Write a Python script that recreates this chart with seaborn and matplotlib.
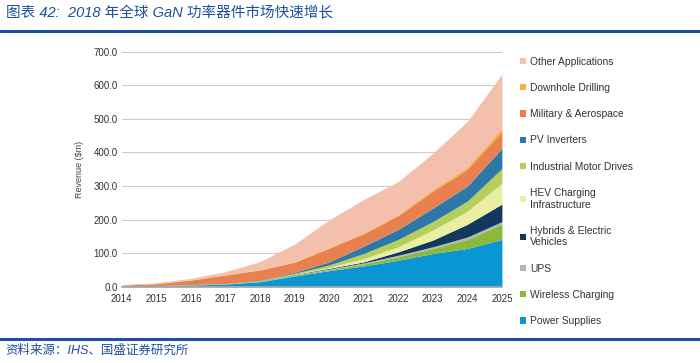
import numpy as np
import matplotlib
matplotlib.use("Agg")
import matplotlib.pyplot as plt
from matplotlib.patches import Patch
from matplotlib.lines import Line2D
import seaborn as sns

sns.set_theme(style="whitegrid")
plt.rcParams['font.family'] = ['Liberation Sans', 'Noto Sans CJK SC', 'DejaVu Sans']

# data ($m, stacked)
years = [2014, 2015, 2016, 2017, 2018, 2019, 2020, 2021, 2022, 2023, 2024, 2025]
power_supplies = [2, 3, 5, 8, 15, 32, 48, 62, 79, 99, 114, 141]
wireless_charging = [0, 0, 0, 0.5, 1, 3, 3, 6, 10, 15, 27, 46]
ups = [0.5, 0.5, 0.5, 0.5, 1, 1, 2, 3, 5, 5, 7, 7]
hybrids_ev = [0, 0, 0, 0, 0.5, 1, 2, 3, 10, 20, 38, 52]
hev_charging = [0, 0, 0, 0, 0.5, 1, 3, 10, 15, 30, 39, 62]
industrial_motor = [0, 0, 0.5, 0.5, 0, 2, 7, 15, 22, 25, 30, 44]
pv_inverters = [0.5, 0.5, 0.5, 0.5, 1, 3, 9, 22, 30, 40, 45, 60]
military_aero = [2, 5, 13.5, 25, 31, 30, 41, 37, 41, 50, 50, 50]
downhole_drilling = [0.5, 0.5, 1, 1, 1, 2, 2, 3, 4, 6, 7, 11]
other_apps = [1.5, 2.5, 4, 9, 24, 52, 82, 99, 97, 107, 135, 160]

series_labels = ['Power Supplies', 'Wireless Charging', 'UPS', 'Hybrids & Electric\nVehicles',
                 'HEV Charging\nInfrastructure', 'Industrial Motor Drives', 'PV Inverters',
                 'Military & Aerospace', 'Downhole Drilling', 'Other Applications']
series_values = [power_supplies, wireless_charging, ups, hybrids_ev, hev_charging,
                 industrial_motor, pv_inverters, military_aero, downhole_drilling, other_apps]
colors = ['#0a96d2', '#8cb83c', '#aab8b6', '#12385e', '#e9eea2',
          '#b6cf5c', '#2b78a9', '#e8804f', '#f8b045', '#f5bfad']

y_ticks = [0, 100, 200, 300, 400, 500, 600, 700]

fig = plt.figure(figsize=(7, 3.63), dpi=100)
ax = fig.add_axes([0.174, 0.21, 0.543, 0.648])

ax.stackplot(years, *series_values, colors=colors, linewidth=0)

ax.set_xlim(years[0], years[-1])
ax.set_ylim(0, 700)
ax.set_xticks(years)
ax.set_xticklabels([str(y) for y in years], fontsize=7, color='#333333')
ax.set_yticks(y_ticks)
ax.set_yticklabels([f'{v:.1f}' for v in y_ticks], fontsize=7, color='#333333')
ax.set_ylabel('Revenue ($m)', fontsize=6.5, color='#444444', labelpad=7)
ax.grid(axis='x', visible=False)
ax.grid(axis='y', color='#cccccc', linewidth=0.8)
ax.set_axisbelow(True)
ax.set_facecolor('white')
for side in ['left', 'right', 'top']:
    ax.spines[side].set_visible(False)
ax.spines['bottom'].set_color('#aaaaaa')
ax.tick_params(axis='both', length=0, pad=3)
ax.tick_params(axis='x', pad=5)

handles = [Patch(facecolor=c, edgecolor='none') for c in colors]
leg = fig.legend(handles[::-1], series_labels[::-1], loc='upper left',
                 bbox_to_anchor=(0.737, 0.855), frameon=False, fontsize=7.4,
                 handlelength=0.55, handleheight=0.55, handletextpad=0.4,
                 labelspacing=1.58, borderaxespad=0)
for t in leg.get_texts():
    t.set_color('#333333')

# header / footer
blue = '#1e4f9e'
fig.text(0.008, 0.962, '图表 42:  2018 年全球 GaN 功率器件市场快速增长', fontsize=10.5,
         color=blue, style='italic', va='center', ha='left')
fig.add_artist(Line2D([0, 1], [0.915, 0.915], color=blue, linewidth=2.2))
fig.add_artist(Line2D([0, 1], [0.066, 0.066], color=blue, linewidth=2.2))
fig.text(0.008, 0.035, '资料来源：IHS、国盛证券研究所', fontsize=9,
         color=blue, style='italic', va='center', ha='left')

fig.savefig('out.png', dpi=100, facecolor='white')
